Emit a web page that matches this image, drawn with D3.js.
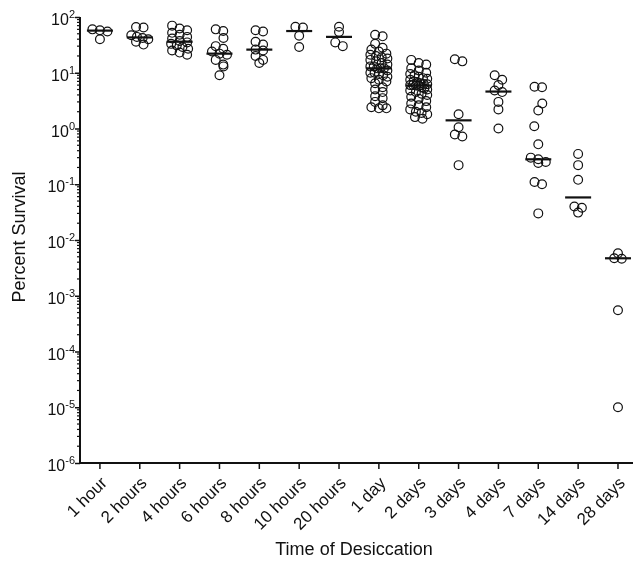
<!DOCTYPE html>
<html>
<head>
<meta charset="utf-8">
<script src="https://cdn.jsdelivr.net/npm/d3@7"></script>
<style>
  body { margin: 0; background: #fff; }
  #chart { will-change: transform; display: block; }
  svg text { font-family: "Liberation Sans", Arial, sans-serif; fill: #111; }
</style>
</head>
<body>
<svg id="chart" width="633" height="561"></svg>
<script>
// categories along the x axis
const categories = ["1 hour", "2 hours", "4 hours", "6 hours", "8 hours", "10 hours", "20 hours",
  "1 day", "2 days", "3 days", "4 days", "7 days", "14 days", "28 days"];

// percent survival of each replicate, per time point
const hours1 = [55, 58, 60, 40];
const hours2 = [66, 65, 47, 44, 42, 40, 36, 32];
const hours4 = [70, 62, 58, 52, 48, 44, 41, 37, 35, 33, 31, 29, 27, 25, 23, 21];
const hours6 = [60, 56, 42, 30, 27, 24, 22, 21, 17, 14, 13, 9];
const hours8 = [58, 55, 36, 32, 26, 25, 20, 17, 15];
const hours10 = [67, 65, 46, 29];
const hours20 = [67, 54, 35, 30];
const days1 = [48, 45, 33, 28, 26, 24, 22, 21, 20, 19, 18, 17, 16, 15, 14, 13, 13, 12, 12, 12,
  11, 10, 10, 9.5, 9, 8.5, 8, 7.5, 7, 6.5, 5.5, 5, 4.5, 3.8, 3.5, 3, 2.6, 2.4, 2.3, 2.3];
const days2 = [17, 15, 14, 12, 11, 10, 9.5, 9, 8.5, 8, 7.8, 7.5, 7, 6.8, 6.5, 6.3, 6.2, 6, 6, 5.9,
  5.8, 5.5, 5.2, 5, 4.8, 4.5, 4.2, 4, 3.7, 3.4, 3.1, 2.8, 2.6, 2.4, 2.2, 2, 1.9, 1.8, 1.6, 1.5];
const days3 = [17.5, 16, 1.8, 1.05, 0.78, 0.72, 0.22];
const days4 = [9, 7.5, 6, 4.8, 4.5, 3, 2.2, 1.0];
const days7 = [5.6, 5.5, 2.8, 2.1, 1.1, 0.52, 0.3, 0.28, 0.25, 0.24, 0.11, 0.1, 0.03];
const days14 = [0.35, 0.22, 0.12, 0.04, 0.038, 0.031];
const days28 = [0.0058, 0.0047, 0.0046, 0.00055, 0.00001];

// horizontal line drawn for each group
const centerLines = [57, 43, 36, 22, 26, 56, 44, 12, 5.9, 1.4, 4.6, 0.28, 0.058, 0.0047];

const groups = [hours1, hours2, hours4, hours6, hours8, hours10, hours20,
  days1, days2, days3, days4, days7, days14, days28];

const yTickExps = [2, 1, 0, -1, -2, -3, -4, -5, -6];

const margin = {top: 17, left: 80, bottom: 98};
const svg = d3.select("#chart");
const H = 561;

const x = d3.scaleBand()
    .domain(categories)
    .range([margin.left, margin.left + categories.length * 39.85]);

const y = d3.scaleLog()
    .domain([1e-6, 100])
    .range([H - margin.bottom, margin.top]);

// minor ticks
const minor = [];
for (let e = -6; e < 2; e++) for (let m = 2; m <= 9; m++) minor.push(m * Math.pow(10, e));

svg.append("g").selectAll("line").data(minor).join("line")
    .attr("x1", margin.left - 3).attr("x2", margin.left)
    .attr("y1", d => y(d)).attr("y2", d => y(d))
    .attr("stroke", "#111").attr("stroke-width", 1.2);

// y axis
const yAxis = svg.append("g")
    .attr("transform", `translate(${margin.left},0)`)
    .call(d3.axisLeft(y).tickValues(yTickExps.map(e => Math.pow(10, e))).tickSize(5).tickFormat(""));
yAxis.select(".domain").attr("stroke", "#111").attr("stroke-width", 2)
    .attr("d", `M0,${margin.top}V${H - margin.bottom}`);
yAxis.selectAll(".tick line").attr("stroke", "#111").attr("stroke-width", 1.5);

const yLab = svg.append("g").selectAll("text").data(yTickExps).join("text")
    .attr("x", 75)
    .attr("y", d => y(Math.pow(10, d)) + 8)
    .attr("text-anchor", "end")
    .style("font-size", "16px");
yLab.append("tspan").text("10");
yLab.append("tspan").attr("dy", -7).style("font-size", "11px").text(d => d);

// x axis
const xAxis = svg.append("g")
    .attr("transform", `translate(0,${H - margin.bottom})`)
    .call(d3.axisBottom(x).tickSize(6).tickSizeOuter(0));
xAxis.select(".domain").attr("stroke", "#111").attr("stroke-width", 2)
    .attr("d", `M${margin.left},0H633`);
xAxis.selectAll(".tick line").attr("stroke", "#111").attr("stroke-width", 1.5);
xAxis.selectAll(".tick text")
    .style("font-size", "17px")
    .attr("fill", "#111")
    .attr("text-anchor", "end")
    .attr("dy", 0)
    .attr("y", 0)
    .attr("transform", "translate(8,21) rotate(-45)");

// axis titles
svg.append("text")
    .attr("transform", `translate(25,237) rotate(-90)`)
    .attr("text-anchor", "middle")
    .style("font-size", "18px")
    .text("Percent Survival");

svg.append("text")
    .attr("x", 354).attr("y", 555)
    .attr("text-anchor", "middle")
    .style("font-size", "18px")
    .text("Time of Desiccation");

// points that fall in the same horizontal band are spread side by side
const R = 4.4, binH = 5;
function scatterRows(values, cx) {
  const ys = values.map(v => y(v)).sort((a, b) => a - b);
  const rows = [];
  ys.forEach(py => {
    const last = rows[rows.length - 1];
    if (last && py - last[0] <= binH) last.push(py);
    else rows.push([py]);
  });
  const out = [];
  rows.forEach((row, r) => {
    const n = row.length;
    const s = n > 1 ? Math.min(7.5, 17 / (n - 1)) : 0;
    // alternate a small shift between rows so stacks look staggered
    const shift = n === 1 && r % 2 === 1 && rows.length > 6 ? (r % 4 === 1 ? 4 : -4) : 0;
    row.forEach((py, k) => out.push({x: cx + shift + (k - (n - 1) / 2) * s, y: py}));
  });
  return out;
}

const pts = [];
groups.forEach((g, i) => {
  const cx = x(categories[i]) + x.bandwidth() / 2;
  scatterRows(g, cx).forEach(p => pts.push(p));
});

svg.append("g").selectAll("circle").data(pts).join("circle")
    .attr("cx", d => d.x).attr("cy", d => d.y).attr("r", R)
    .attr("fill", "none").attr("stroke", "#111").attr("stroke-width", 1.2);

svg.append("g").selectAll("line").data(centerLines).join("line")
    .attr("x1", (d, i) => x(categories[i]) + x.bandwidth() / 2 - 13)
    .attr("x2", (d, i) => x(categories[i]) + x.bandwidth() / 2 + 13)
    .attr("y1", d => y(d)).attr("y2", d => y(d))
    .attr("stroke", "#111").attr("stroke-width", 2.2);
</script>
</body>
</html>
